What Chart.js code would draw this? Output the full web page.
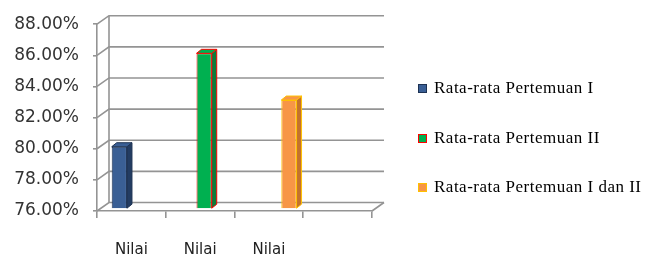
<!DOCTYPE html>
<html>
<head>
<meta charset="utf-8">
<script src="https://cdn.jsdelivr.net/npm/chart.js@4"></script>
<style>
html, body { margin: 0; padding: 0; background: #fff; }
#wrap { width: 646px; height: 254px; position: relative; }
#legenda { position: absolute; left: 418px; top: 79px; font-family: 'Liberation Serif', serif; font-size: 17px; letter-spacing: 0.5px; color: #000; }
#legenda .item { height: 49.5px; display: flex; align-items: flex-start; white-space: nowrap; }
#legenda .kotak { width: 7px; height: 7px; border: 1px solid; margin: 5px 7px 0 0; flex: none; }
#legenda span { line-height: 18px; }
</style>
</head>
<body>
<div id="wrap"><canvas id="grafikNilai"></canvas><div id="legenda"></div></div>
<script>
// Data
const kategori = ['Nilai', 'Nilai', 'Nilai', ''];
const namaSeri = ['Rata-rata Pertemuan I', 'Rata-rata Pertemuan II', 'Rata-rata Pertemuan I dan II'];
const nilai = [80, 86, 83];
const tickY = [76, 78, 80, 82, 84, 86, 88];

// Warna
const warnaIsi = ['#3a5f95', '#00b050', '#f79646'];
const warnaGaris = ['#1d3253', '#ff0000', '#ffc000'];
const warnaSisi = ['#233c62', '#0a7d3b', '#c4722c'];

// offset dinding belakang (efek 3D)
const DX = 12, DY = -8.5;
const geser = { x: 4, y: -2 };
const dalam = { x: 5, y: -4 };

const efek3d = {
    id: 'efek3d',
    beforeDatasetsDraw(chart) {
        const { ctx, chartArea: a, scales: { y } } = chart;
        ctx.save();
        ctx.strokeStyle = '#949494';
        ctx.lineWidth = 1.6;
        tickY.forEach(v => {
            const py = y.getPixelForValue(v);
            ctx.beginPath();
            ctx.moveTo(a.left, py);
            ctx.lineTo(a.left + DX, py + DY);
            ctx.lineTo(a.right + DX, py + DY);
            ctx.stroke();
        });
        ctx.beginPath();
        ctx.moveTo(a.left + DX, a.top + DY);
        ctx.lineTo(a.left + DX, a.bottom + DY);
        ctx.moveTo(a.right, a.bottom);
        ctx.lineTo(a.right + DX, a.bottom + DY);
        ctx.stroke();
        ctx.restore();

        ctx.save();
        ctx.translate(geser.x, geser.y);
    },
    afterDatasetsDraw(chart) {
        const ctx = chart.ctx;
        chart.data.datasets.forEach((ds, i) => {
            const meta = chart.getDatasetMeta(i);
            meta.data.forEach((bar, j) => {
                if (ds.data[j] == null) return;
                const p = bar.getProps(['x', 'y', 'base', 'width'], true);
                const l = p.x - p.width / 2, r = p.x + p.width / 2;
                ctx.lineWidth = 1;
                ctx.strokeStyle = warnaGaris[i];
                // sisi kanan
                ctx.fillStyle = warnaSisi[i];
                ctx.beginPath();
                ctx.moveTo(r, p.y);
                ctx.lineTo(r + dalam.x, p.y + dalam.y);
                ctx.lineTo(r + dalam.x, p.base + dalam.y);
                ctx.lineTo(r, p.base);
                ctx.closePath();
                ctx.fill();
                ctx.stroke();
                // sisi atas
                ctx.fillStyle = warnaIsi[i];
                ctx.beginPath();
                ctx.moveTo(l, p.y);
                ctx.lineTo(l + dalam.x, p.y + dalam.y);
                ctx.lineTo(r + dalam.x, p.y + dalam.y);
                ctx.lineTo(r, p.y);
                ctx.closePath();
                ctx.fill();
                ctx.stroke();
            });
        });
        ctx.restore();
    }
};

const datasets = namaSeri.map((nama, i) => ({
    label: nama,
    data: kategori.map((_, j) => (j === i ? nilai[i] : null)),
    base: tickY[0],
    backgroundColor: warnaIsi[i],
    borderColor: warnaGaris[i],
    borderWidth: 1,
    categoryPercentage: 0.7,
    barPercentage: 0.95
}));

// legenda di kanan
const legenda = document.getElementById('legenda');
namaSeri.forEach((nama, i) => {
    const item = document.createElement('div');
    item.className = 'item';
    item.innerHTML = `<div class="kotak" style="background:${warnaIsi[i]};border-color:${warnaGaris[i]}"></div><span>${nama}</span>`;
    legenda.appendChild(item);
});

const garisAbu = '#949494';

new Chart(document.getElementById('grafikNilai'), {
    type: 'bar',
    data: { labels: kategori, datasets: datasets },
    options: {
        responsive: true,
        maintainAspectRatio: false,
        animation: false,
        devicePixelRatio: 1,
        layout: { padding: { top: 23, right: 274, bottom: 0, left: 0 } },
        plugins: {
            tooltip: { enabled: false },
            legend: { display: false }
        },
        scales: {
            x: {
                offset: true,
                grid: { drawOnChartArea: false, offset: true, tickLength: 7, color: garisAbu, lineWidth: 1.6 },
                border: { display: true, color: garisAbu, width: 1.6 },
                ticks: {
                    padding: 23,
                    autoSkip: false,
                    maxRotation: 0,
                    color: '#222',
                    font: { family: 'DejaVu Sans', size: 15 }
                },
                afterFit: s => { s.height = 43; }
            },
            y: {
                min: 76,
                max: 88,
                ticks: {
                    stepSize: 2,
                    padding: 14,
                    color: '#333',
                    font: { family: 'DejaVu Sans', size: 17 },
                    callback: v => v.toFixed(2) + '%'
                },
                grid: { drawOnChartArea: false, tickLength: 4, color: garisAbu, lineWidth: 1.6 },
                border: { display: true, color: garisAbu, width: 1.6 },
                afterFit: s => { s.width = 97; }
            }
        }
    },
    plugins: [efek3d]
});
</script>
</body>
</html>
